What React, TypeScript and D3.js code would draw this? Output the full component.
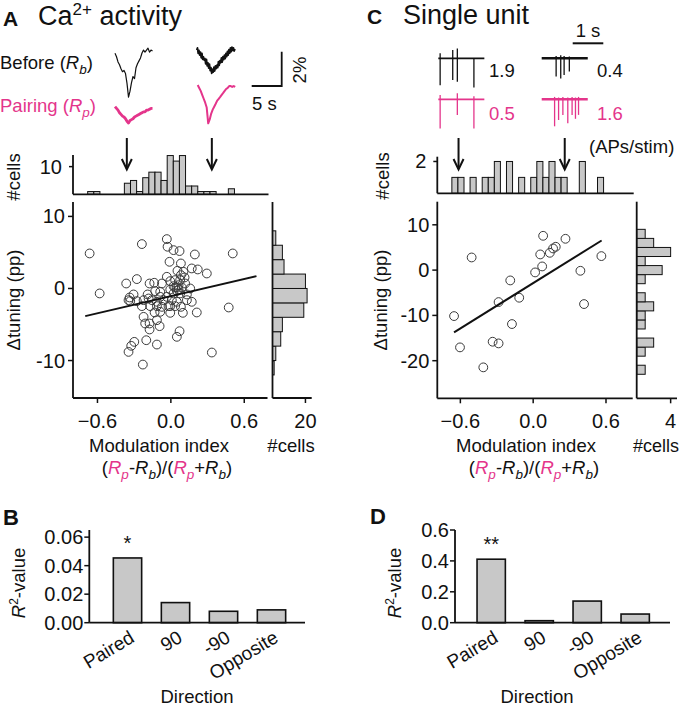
import React from 'react';
import * as d3 from 'd3';

const FONT = '"Liberation Sans", Arial, Helvetica, sans-serif';
const MAGENTA = '#e4358b';
const BAR_FILL = '#c8c8c8';
const INK = '#111';
const TICK_FS = 20;
const LABEL_FS = 18.5;

// ---- Panel A: Ca2+ imaging, modulation index vs change in tuning (pp)
const caPoints: [number, number][] = [
  [-0.664, 4.86], [-0.582, -0.69], [-0.237, 6.16], [-0.033, 6.85], [-0.027, 5.79],
  [0.022, 5.32], [0.071, 5.19], [0.196, 4.72], [0.506, 4.86], [-0.011, 3.7],
  [0.082, 3.47], [0.054, 2.45], [0.103, 2.31], [0.171, 2.78], [0.22, 2.64],
  [0.294, 2.08], [-0.365, 0.69], [-0.278, 1.3], [-0.305, -0.83], [-0.337, -1.25],
  [-0.332, -1.76], [-0.278, -1.76], [-0.174, 0.69], [-0.136, 0.79], [-0.073, 0.69],
  [-0.19, -0.83], [-0.128, -0.37], [-0.087, -1.16], [-0.005, 1.02], [0.035, 1.16],
  [0.063, 0.46], [0.035, 0.14], [0.09, 0.14], [0.117, 0.69], [0.076, 1.16],
  [-0.005, -0.14], [-0.033, -1.16], [0.022, -0.69], [0.076, -0.69], [0.131, -0.83],
  [0.171, -1.85], [0.131, -1.62], [-0.169, -2.45], [-0.114, -2.45], [-0.073, -2.55],
  [-0.019, -2.45], [0.035, -2.45], [0.082, -2.55], [-0.133, -3.33], [-0.005, -3.38],
  [0.098, -3.38], [0.212, -3.33], [-0.223, -3.94], [-0.21, -4.86], [-0.174, -4.86],
  [-0.174, -5.69], [-0.114, -4.4], [-0.092, -5.23], [0.473, -2.64], [0.071, -5.93],
  [0.049, -6.71], [-0.201, -7.18], [-0.114, -7.78], [-0.299, -7.41], [-0.324, -7.96],
  [-0.346, -8.8], [0.335, -8.89], [-0.229, -10.56], [-0.346, -1.62], [-0.223, -1.62],
  [-0.155, -1.62], [-0.114, -1.85], [-0.06, -1.62], [0.008, -1.62], [0.049, -1.85],
  [0.022, 0.32], [0.049, 0.14], [0.063, -0.14], [-0.033, 1.62], [-0.087, -0.46],
  [-0.182, -1.39], [-0.005, -2.45], [-0.237, -2.45], [0.112, 1.53], [0.082, 1.85],
  [0.158, 0.0], [-0.087, -3.24], [0.049, -0.32],
];
const caFit: [number, number][] = [[-0.7, -3.84], [0.7, 1.71]];
const caTopCounts = [1, 1, 0, 0, 0, 0, 4, 5, 1, 6, 8, 8, 5, 14, 12, 14, 3, 3, 1, 1, 1, 0, 0, 2];
const caSideCounts = [1, 2, 5, 6, 19, 21, 20, 7, 6, 2]; // from -12 pp upward, 2 pp bins
const caExamples = [-0.36, 0.335];

// example Ca2+ traces (dF/F %)
const caBeforeLeft = [0, -0.2, -0.5, -0.67, -0.9, -1.07, -1.0, -1.18, -1.75, -2.55, -2.2, -1.7, -1.35, -1.47, -0.84, -0.61, -0.44, -0.27, 0.02, 0.19, 0.07, 0.19, 0.3, 0.07, 0.19, 0.13];
const caBeforeRight = [0, 0.12, -0.2, -0.02, -0.3, -0.12, -0.45, -0.2, -0.55, -0.4, -0.58, -0.5, -0.8, -0.55, -0.92, -0.75, -1.05, -0.82, -1.2, -1.02, -1.36, -1.12, -1.28, -1.0, -1.22, -0.92, -1.08, -0.88, -1.02, -0.68, -0.9, -0.62, -0.74, -0.46, -0.7, -0.38, -0.56, -0.3, -0.5, -0.2, -0.38, -0.08, -0.3, 0.02, -0.18, 0.12, -0.1, 0.16, -0.02, 0.12, -0.06, 0.06];
const caPairLeft = [0, -0.1, -0.2, -0.35, -0.45, -0.55, -0.6, -0.7, -0.85, -0.95, -0.8, -0.75, -0.7, -0.6, -0.55, -0.5, -0.45, -0.4, -0.35, -0.3, -0.3, -0.2, -0.2, -0.15, -0.1, -0.1];
const caPairRight = [0, -0.17, -0.34, -0.57, -0.8, -1.03, -1.31, -2.23, -2.0, -1.66, -1.43, -1.26, -1.09, -0.91, -0.8, -0.69, -0.57, -0.46, -0.34, -0.23, -0.17, -0.06, -0.06, -0.11, -0.06, -0.11];

// ---- Panel C: single units
const unitPoints: [number, number][] = [
  [-0.652, -10.15], [-0.603, -17.06], [-0.507, 2.79], [-0.411, -21.47], [-0.334, -15.81],
  [-0.285, -16.18], [-0.285, -7.06], [-0.189, -2.28], [-0.175, -11.91], [-0.115, -6.1],
  [0.016, -0.51], [0.058, 3.46], [0.074, 0.81], [0.082, 7.57], [0.137, 3.82],
  [0.164, 4.78], [0.186, 5.15], [0.266, 6.91], [0.389, -0.15], [0.419, -7.5],
  [0.562, 3.09],
];
const unitFit: [number, number][] = [[-0.652, -13.75], [0.564, 6.54]];
const unitTopCounts = [1, 1, 0, 1, 0, 1, 1, 2, 0, 2, 0, 1, 0, 1, 2, 1, 2, 1, 1, 0, 0, 2, 0, 0, 1];
const unitSideCounts = [1, 0, 1, 2, 0, 1, 1, 2, 1, 0, 1, 3, 1, 4, 2, 1]; // from -23 pp upward
const unitExamples = [-0.615, 0.26];

// spike rasters: time (s), downward and upward deflection (normalised)
const spkBeforeLeftT = [0.06, 0.47, 0.62, 1.16];
const spkBeforeLeftDown = [-0.9, -0.72, -0.78, -0.97];
const spkBeforeLeftUp = [0.17, 0.28, 0.33, 0.0];
const spkBeforeRightT = [0.47, 0.62, 0.73, 0.9];
const spkBeforeRightDown = [-0.61, -0.67, -0.56, -0.44];
const spkBeforeRightUp = [0.08, 0.1, 0.08, 0.06];
const spkPairLeftT = [0.06, 0.62, 1.16];
const spkPairLeftDown = [-0.97, -0.52, -0.97];
const spkPairLeftUp = [0.14, 0.2, 0.1];
const spkPairRightT = [0.42, 0.55, 0.69, 0.85, 0.99, 1.1, 1.2];
const spkPairRightDown = [-0.9, -0.69, -0.52, -0.8, -0.52, -0.65, -0.52];
const spkPairRightUp = [0.08, 0.06, 0.08, 0.06, 0.08, 0.06, 0.08];
const rateLabels = ['1.9', '0.4', '0.5', '1.6'];

// ---- Panels B, D
const directions = ['Paired', '90', '-90', 'Opposite'];
const caR2 = [0.0454, 0.0141, 0.008, 0.009];
const unitR2 = [0.411, 0.013, 0.14, 0.056];

type Lin = d3.ScaleLinear<number, number>;

function Arrow({ x }: { x: number }) {
  return (
    <g stroke={INK} strokeWidth={2} fill="none">
      <line x1={x} x2={x} y1={138} y2={169} />
      <path d={`M${x - 5},${159} L${x},${169.5} L${x + 5},${159}`} />
    </g>
  );
}

function MarginalScatter(props: {
  x: Lin; y: Lin; topY: Lin; sideX: Lin;
  points: [number, number][]; fit: [number, number][];
  topStart: number; topCounts: number[]; sideStart: number; sideCounts: number[];
  yTicks: number[]; topTick: number; sideTick: number; examples: number[];
}) {
  const { x, y, topY, sideX, points, fit, topStart, topCounts, sideStart, sideCounts, yTicks, topTick, sideTick, examples } = props;
  const [xl, xr] = x.range();
  const [yb, yt] = y.range();
  const bw = 0.05;
  const sb = 2;
  const line = d3.line<[number, number]>().x(d => x(d[0])).y(d => y(d[1]));
  const sx0 = sideX.range()[0];
  return (
    <g fontFamily={FONT}>
      {/* top histogram */}
      {topCounts.map((c, i) => c > 0 && (
        <rect key={i} x={x(topStart + i * bw)} width={x(topStart + (i + 1) * bw) - x(topStart + i * bw)}
          y={topY(c)} height={topY(0) - topY(c)} fill={BAR_FILL} stroke={INK} strokeWidth={1} />
      ))}
      <line x1={xl} x2={xr + 1} y1={topY(0)} y2={topY(0)} stroke={INK} strokeWidth={1.8} />
      <line x1={xl} x2={xl} y1={topY.range()[1]} y2={topY(0)} stroke={INK} strokeWidth={1.8} />
      <line x1={xl - 4} x2={xl} y1={topY(topTick)} y2={topY(topTick)} stroke={INK} strokeWidth={1.5} />
      <text x={xl - 11} y={topY(topTick)} dy="0.35em" textAnchor="end" fontSize={TICK_FS}>{topTick}</text>
      {examples.map((e, i) => <Arrow key={i} x={x(e)} />)}

      {/* scatter */}
      <line x1={xl} x2={xl} y1={yt} y2={yb} stroke={INK} strokeWidth={1.8} />
      <line x1={xl} x2={xr} y1={yb} y2={yb} stroke={INK} strokeWidth={1.8} />
      {yTicks.map(t => (
        <g key={t}>
          <line x1={xl - 5} x2={xl} y1={y(t)} y2={y(t)} stroke={INK} strokeWidth={1.5} />
          <text x={xl - 8} y={y(t)} dy="0.35em" textAnchor="end" fontSize={TICK_FS}>{t}</text>
        </g>
      ))}
      {[-0.6, 0, 0.6].map(t => (
        <g key={t}>
          <line x1={x(t)} x2={x(t)} y1={yb} y2={yb + 5} stroke={INK} strokeWidth={1.5} />
          <text x={x(t)} y={yb + 30} textAnchor="middle" fontSize={TICK_FS}>{d3.format('.1f')(t)}</text>
        </g>
      ))}
      {points.map((p, i) => (
        <circle key={i} cx={x(p[0])} cy={y(p[1])} r={4.4} fill="none" stroke="#3a3a3a" strokeWidth={1} />
      ))}
      <path d={line(fit) || ''} stroke={INK} strokeWidth={2} fill="none" />

      {/* side histogram */}
      {sideCounts.map((c, i) => c > 0 && (
        <rect key={i} x={sx0} width={sideX(c) - sx0} y={y(sideStart + (i + 1) * sb)}
          height={y(sideStart + i * sb) - y(sideStart + (i + 1) * sb)} fill={BAR_FILL} stroke={INK} strokeWidth={1} />
      ))}
      <line x1={sx0} x2={sx0} y1={yt} y2={yb} stroke={INK} strokeWidth={1.8} />
      <line x1={sx0} x2={sideX.range()[1]} y1={yb} y2={yb} stroke={INK} strokeWidth={1.8} />
      <line x1={sideX(sideTick)} x2={sideX(sideTick)} y1={yb} y2={yb + 5} stroke={INK} strokeWidth={1.5} />
      <text x={sideX(sideTick)} y={yb + 30} textAnchor="middle" fontSize={TICK_FS}>{sideTick}</text>
    </g>
  );
}

function IndexLabel({ cx, y }: { cx: number; y: number }) {
  const sub = { fontSize: 13.5, fontStyle: 'italic' as const };
  return (
    <text x={cx} y={y} textAnchor="middle" fontSize={LABEL_FS} fontFamily={FONT}>
      (<tspan fill={MAGENTA} fontStyle="italic">R</tspan>
      <tspan fill={MAGENTA} dy={5} {...sub}>p</tspan>
      <tspan dy={-5}>-</tspan><tspan fontStyle="italic">R</tspan>
      <tspan dy={5} {...sub}>b</tspan>
      <tspan dy={-5}>)/(</tspan><tspan fill={MAGENTA} fontStyle="italic">R</tspan>
      <tspan fill={MAGENTA} dy={5} {...sub}>p</tspan>
      <tspan dy={-5}>+</tspan><tspan fontStyle="italic">R</tspan>
      <tspan dy={5} {...sub}>b</tspan>
      <tspan dy={-5}>)</tspan>
    </text>
  );
}

function R2Bars(props: { values: number[]; yMax: number; range: [number, number]; axisX: [number, number]; ticks: number[]; fmt: string; star: string; cx: number }) {
  const { values, yMax, range, axisX, ticks, fmt, star, cx } = props;
  const x = d3.scaleBand<string>().domain(directions).range(range).paddingInner(0.41).paddingOuter(0.205);
  const y = d3.scaleLinear().domain([0, yMax]).range([622.7, 530]);
  return (
    <g fontFamily={FONT}>
      {directions.map((d, i) => (
        <rect key={d} x={x(d)} width={x.bandwidth()} y={y(values[i])} height={y(0) - y(values[i])}
          fill={BAR_FILL} stroke={INK} strokeWidth={1.6} />
      ))}
      <line x1={axisX[0]} x2={axisX[0]} y1={y(yMax)} y2={y(0)} stroke={INK} strokeWidth={1.8} />
      <line x1={axisX[0]} x2={axisX[1]} y1={y(0)} y2={y(0)} stroke={INK} strokeWidth={1.8} />
      {ticks.map(t => (
        <g key={t}>
          <line x1={axisX[0] - 5} x2={axisX[0]} y1={y(t)} y2={y(t)} stroke={INK} strokeWidth={1.5} />
          <text x={axisX[0] - 6} y={y(t)} dy="0.35em" textAnchor="end" fontSize={TICK_FS}>{d3.format(fmt)(t)}</text>
        </g>
      ))}
      <text x={(x('Paired') || 0) + x.bandwidth() / 2} y={y(values[0]) - 8} textAnchor="middle" fontSize={20}>{star}</text>
      {directions.map(d => {
        const c = (x(d) || 0) + x.bandwidth() / 2;
        return (
          <text key={d} transform={`translate(${c + 8},${641}) rotate(-31)`} textAnchor="end" fontSize={19}>{d}</text>
        );
      })}
      <text x={cx} y={703} textAnchor="middle" fontSize={LABEL_FS}>Direction</text>
    </g>
  );
}

function CaTrace({ values, x0, y0, color, width, dt }: { values: number[]; x0: number; y0: number; color: string; width: number; dt: number }) {
  const t = d3.scaleLinear().domain([0, 1]).range([x0, x0 + 6]); // 6 px per s
  const v = d3.scaleLinear().domain([0, 1]).range([y0, y0 - 17.2]); // 17.2 px per %
  const line = d3.line<number>().x((_, i) => t(i * dt)).y(d => v(d));
  return <path d={line(values) || ''} stroke={color} strokeWidth={width} fill="none" strokeLinejoin="round" />;
}

function SpikeTrace({ times, down, up, x0, y0, color, width }: { times: number[]; down: number[]; up: number[]; x0: number; y0: number; color: string; width: number }) {
  const t = d3.scaleLinear().domain([0, 1]).range([x0, x0 + 30.7]);
  const v = d3.scaleLinear().domain([0, 1]).range([y0, y0 - 30]);
  return (
    <g stroke={color}>
      <line x1={t(0)} x2={t(1.5)} y1={v(0)} y2={v(0)} strokeWidth={width} />
      {times.map((s, i) => (
        <line key={i} x1={t(s)} x2={t(s)} y1={v(up[i])} y2={v(down[i])} strokeWidth={1.3} />
      ))}
    </g>
  );
}

export default function App() {
  const xA = d3.scaleLinear().domain([-0.8, 0.79]).range([73, 267.5]);
  const yA = d3.scaleLinear().domain([-15.2, 12]).range([398, 202]);
  const topYA = d3.scaleLinear().domain([0, 14.2]).range([194.3, 155]);
  const sideXA = d3.scaleLinear().domain([0, 23.8]).range([272.5, 311.7]);

  const xC = d3.scaleLinear().domain([-0.79, 0.82]).range([437.3, 632.7]);
  const yC = d3.scaleLinear().domain([-28.3, 15.1]).range([398.3, 201.7]);
  const topYC = d3.scaleLinear().domain([0, 2.3]).range([193.3, 156.7]);
  const sideXC = d3.scaleLinear().domain([0, 4.75]).range([636.7, 677]);

  const sub = { fontSize: 13.5, fontStyle: 'italic' as const };

  return (
    <svg width={682} height={709} style={{ position: 'absolute', left: 0, top: 0, background: '#fff' }} fontFamily={FONT} fill={INK}>
      {/* ---------- A ---------- */}
      <text x={3} y={26} fontSize={21} fontWeight="bold">A</text>
      <text x={38} y={25} fontSize={27}>Ca<tspan fontSize={17} dy={-10}>2+</tspan><tspan dy={10}> activity</tspan></text>
      <text x={0} y={69} fontSize={LABEL_FS}>Before (<tspan fontStyle="italic">R</tspan><tspan dy={5} {...sub}>b</tspan><tspan dy={-5}>)</tspan></text>
      <text x={0} y={112} fontSize={LABEL_FS} fill={MAGENTA}>Pairing (<tspan fontStyle="italic">R</tspan><tspan dy={5} {...sub}>p</tspan><tspan dy={-5}>)</tspan></text>
      <CaTrace values={caBeforeLeft} x0={115} y0={53.3} color={INK} width={1.2} dt={0.25} />
      <CaTrace values={caBeforeRight} x0={196.7} y0={50} color={INK} width={1.8} dt={0.125} />
      <CaTrace values={caPairLeft} x0={115} y0={106.7} color={MAGENTA} width={2.8} dt={0.25} />
      <CaTrace values={caPairRight} x0={197.7} y0={85} color={MAGENTA} width={2} dt={0.25} />
      <path d="M281.7,51.7 L281.7,86 L251.7,86" stroke={INK} strokeWidth={1.8} fill="none" />
      <text transform="translate(306,70) rotate(-90)" textAnchor="middle" fontSize={LABEL_FS}>2%</text>
      <text x={252} y={110} fontSize={LABEL_FS}>5 s</text>

      <text transform="translate(20,177) rotate(-90)" textAnchor="middle" fontSize={LABEL_FS}>#cells</text>
      <text transform="translate(20,300) rotate(-90)" textAnchor="middle" fontSize={LABEL_FS}>Δtuning (pp)</text>
      <MarginalScatter x={xA} y={yA} topY={topYA} sideX={sideXA} points={caPoints} fit={caFit}
        topStart={-0.68} topCounts={caTopCounts} sideStart={-12} sideCounts={caSideCounts}
        yTicks={[-10, 0, 10]} topTick={10} sideTick={20} examples={caExamples} />
      <text x={159} y={452} textAnchor="middle" fontSize={LABEL_FS}>Modulation index</text>
      <text x={291} y={452} textAnchor="middle" fontSize={LABEL_FS}>#cells</text>
      <IndexLabel cx={167} y={474} />

      {/* ---------- C ---------- */}
      <text x={367} y={24} fontSize={21} fontWeight="bold">C</text>
      <text x={403} y={24} fontSize={27}>Single unit</text>
      <line x1={572.7} x2={603.3} y1={43.3} y2={43.3} stroke={INK} strokeWidth={2} />
      <text x={588} y={37} textAnchor="middle" fontSize={LABEL_FS}>1 s</text>
      <SpikeTrace times={spkBeforeLeftT} down={spkBeforeLeftDown} up={spkBeforeLeftUp} x0={438.3} y0={58.3} color={INK} width={1.8} />
      <SpikeTrace times={spkBeforeRightT} down={spkBeforeRightDown} up={spkBeforeRightUp} x0={541.7} y0={58.3} color={INK} width={2.6} />
      <SpikeTrace times={spkPairLeftT} down={spkPairLeftDown} up={spkPairLeftUp} x0={438.3} y0={99.3} color={MAGENTA} width={1.8} />
      <SpikeTrace times={spkPairRightT} down={spkPairRightDown} up={spkPairRightUp} x0={541.7} y0={99.3} color={MAGENTA} width={2.6} />
      <text x={489} y={77} fontSize={LABEL_FS}>{rateLabels[0]}</text>
      <text x={597} y={77} fontSize={LABEL_FS}>{rateLabels[1]}</text>
      <text x={489} y={120} fontSize={LABEL_FS} fill={MAGENTA}>{rateLabels[2]}</text>
      <text x={597} y={120} fontSize={LABEL_FS} fill={MAGENTA}>{rateLabels[3]}</text>
      <text x={589} y={153} fontSize={LABEL_FS}>(APs/stim)</text>

      <text transform="translate(389,176) rotate(-90)" textAnchor="middle" fontSize={LABEL_FS}>#cells</text>
      <text transform="translate(387,300) rotate(-90)" textAnchor="middle" fontSize={LABEL_FS}>Δtuning (pp)</text>
      <MarginalScatter x={xC} y={yC} topY={topYC} sideX={sideXC} points={unitPoints} fit={unitFit}
        topStart={-0.67} topCounts={unitTopCounts} sideStart={-23} sideCounts={unitSideCounts}
        yTicks={[-20, -10, 0, 10]} topTick={2} sideTick={4} examples={unitExamples} />
      <text x={526} y={452} textAnchor="middle" fontSize={LABEL_FS}>Modulation index</text>
      <text x={679} y={452} textAnchor="end" fontSize={18}>#cells</text>
      <IndexLabel cx={534} y={474} />

      {/* ---------- B ---------- */}
      <text x={3} y={525} fontSize={22} fontWeight="bold">B</text>
      <text transform="translate(25,583) rotate(-90)" textAnchor="middle" fontSize={LABEL_FS}>
        <tspan fontStyle="italic">R</tspan><tspan fontSize={12} dy={-7}>2</tspan><tspan dy={7}>-value</tspan>
      </text>
      <R2Bars values={caR2} yMax={0.065} range={[103.5, 295.5]} axisX={[89.3, 305]} ticks={[0, 0.02, 0.04, 0.06]} fmt=".2f" star="*" cx={197} />

      {/* ---------- D ---------- */}
      <text x={370} y={524} fontSize={22} fontWeight="bold">D</text>
      <text transform="translate(401,583) rotate(-90)" textAnchor="middle" fontSize={LABEL_FS}>
        <tspan fontStyle="italic">R</tspan><tspan fontSize={12} dy={-7}>2</tspan><tspan dy={7}>-value</tspan>
      </text>
      <R2Bars values={unitR2} yMax={0.6} range={[467.2, 659.2]} axisX={[455, 670]} ticks={[0, 0.2, 0.4, 0.6]} fmt=".1f" star="**" cx={537} />
    </svg>
  );
}
